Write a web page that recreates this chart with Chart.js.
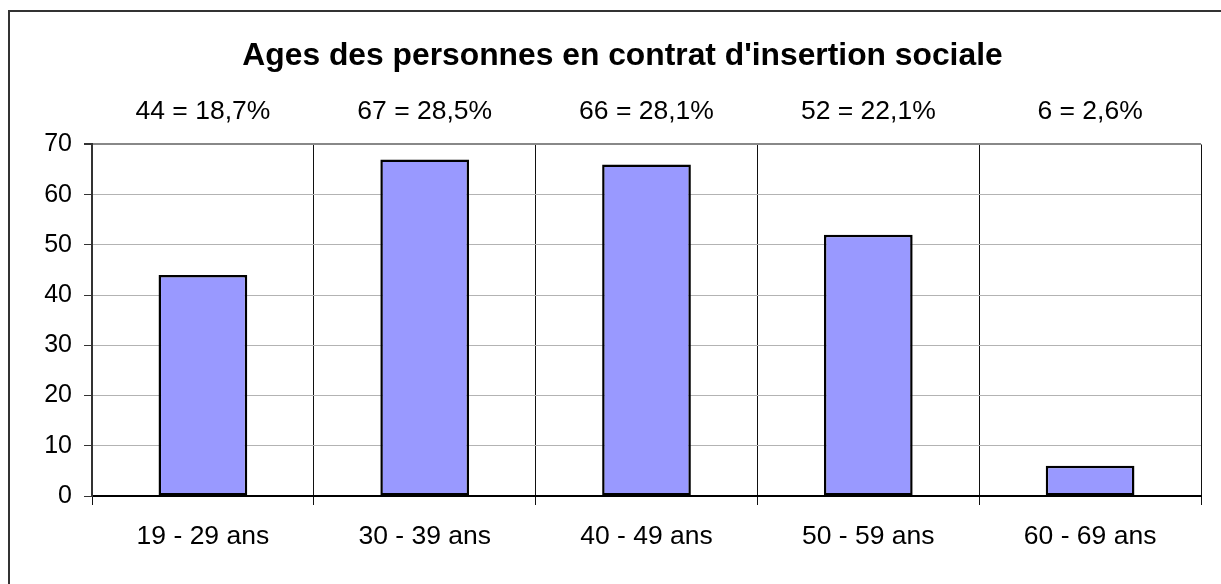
<!DOCTYPE html>
<html>
<head>
<meta charset="utf-8">
<script src="https://cdn.jsdelivr.net/npm/chart.js@4"></script>
<style>
  html, body { margin: 0; padding: 0; background: #fff; overflow: hidden; }
  #frame { position: absolute; left: 8px; top: 10px; width: 1300px; height: 700px; border: 2px solid #333; }
  #chart { position: absolute; left: 0; top: 0; }
</style>
</head>
<body>
<div id="frame"></div>
<canvas id="chart" width="1221" height="584"></canvas>
<script>
const ageGroups = ['19 - 29 ans', '30 - 39 ans', '40 - 49 ans', '50 - 59 ans', '60 - 69 ans']
const persons = [44, 67, 66, 52, 6]
const shareLabels = ['44 = 18,7%', '67 = 28,5%', '66 = 28,1%', '52 = 22,1%', '6 = 2,6%']
const yTicks = [0, 10, 20, 30, 40, 50, 60, 70]

const font = 'Liberation Sans, Arial, sans-serif'
const labelFont = { family: font, size: 26.5 }

new Chart(document.getElementById('chart'), {
  type: 'bar',
  data: {
    labels: ageGroups,
    datasets: [{
      data: persons,
      backgroundColor: '#9999ff',
      borderColor: '#000',
      borderWidth: 2.5,
      borderSkipped: false,
      categoryPercentage: 1,
      barPercentage: 0.4,
    }]
  },
  options: {
    responsive: false,
    animation: false,
    devicePixelRatio: 1,
    layout: { padding: { left: 44, right: 20, top: 0, bottom: 0 } },
    plugins: {
      legend: { display: false },
      tooltip: { enabled: false },
      title: {
        display: true,
        text: "Ages des personnes en contrat d'insertion sociale",
        color: '#000',
        font: { family: font, size: 31.8, weight: 'bold' },
        padding: { top: 37, bottom: 0 },
      },
    },
    scales: {
      x: {
        position: 'bottom',
        offset: true,
        grid: {
          offset: true,
          color: ctx => ctx.index === ageGroups.length ? '#888' : '#111',
          lineWidth: ctx => ctx.index === ageGroups.length ? 2 : 1,
          tickLength: 9,
        },
        border: { color: '#000', width: 2 },
        ticks: { color: '#000', font: labelFont, padding: 16, maxRotation: 0 },
        afterFit: s => { s.height = 88 },
      },
      x2: {
        position: 'top',
        type: 'category',
        labels: shareLabels,
        offset: true,
        grid: { display: false, drawTicks: false },
        border: { display: false },
        ticks: { color: '#000', font: labelFont, padding: 16.5, maxRotation: 0 },
        afterFit: s => { s.height = 69.3 },
      },
      y: {
        min: 0,
        max: 70,
        afterBuildTicks: s => { s.ticks = yTicks.map(v => ({ value: v })) },
        grid: {
          color: ctx => ctx.tick && ctx.tick.value === 70 ? '#888' : '#b3b3b3',
          lineWidth: ctx => ctx.tick && ctx.tick.value === 70 ? 2 : 1,
          tickColor: '#333',
          tickLength: 8,
        },
        border: { color: '#333', width: 2 },
        ticks: { color: '#000', font: { family: font, size: 25 }, padding: 12 },
        afterFit: s => { s.width = 48 },
      },
    },
  },
})
</script>
</body>
</html>
